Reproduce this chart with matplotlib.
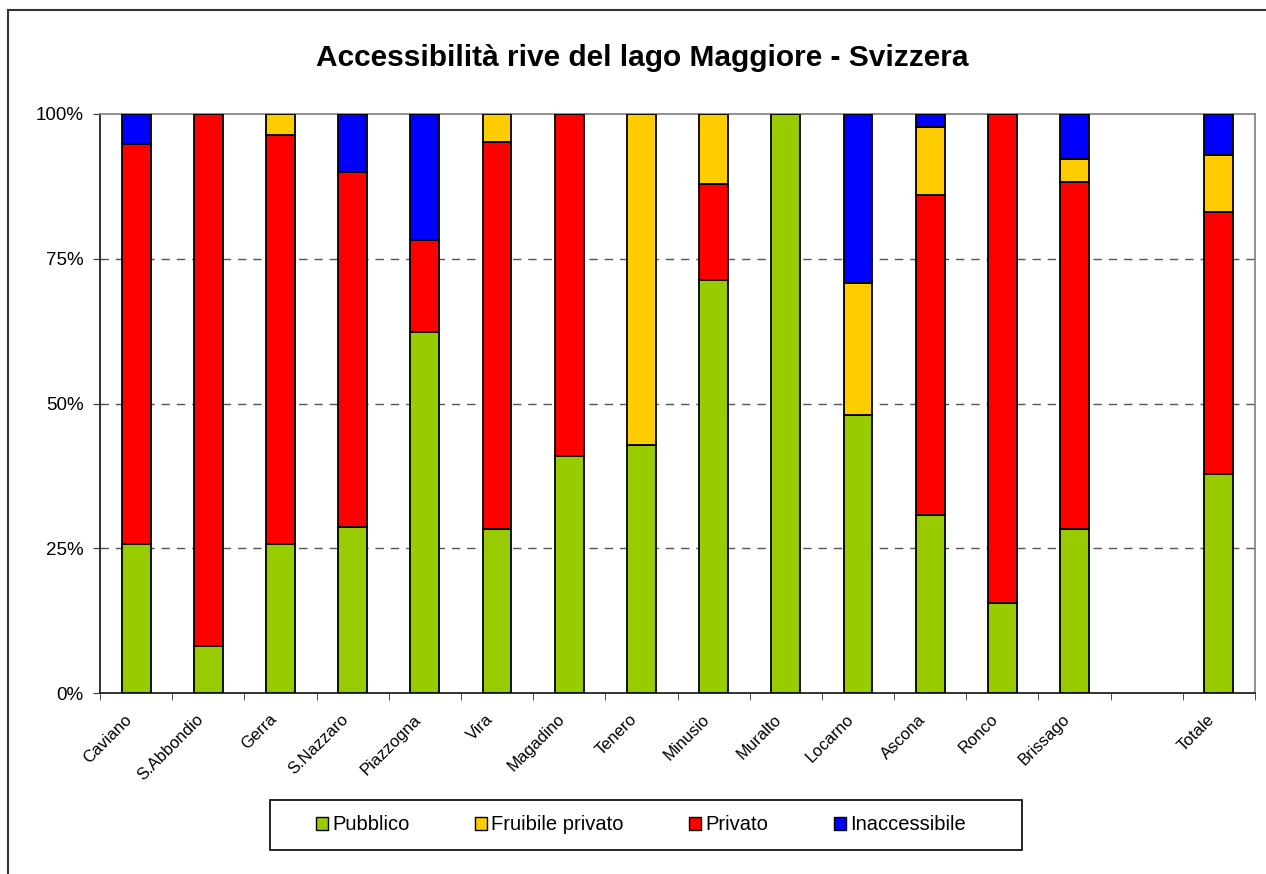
import numpy as np
import matplotlib
matplotlib.use("Agg")
import matplotlib.pyplot as plt
import matplotlib.transforms as mtransforms
from matplotlib.lines import Line2D
from matplotlib.patches import Patch, Rectangle

plt.rcParams['font.family'] = ['Liberation Sans', 'DejaVu Sans']

categories = ["Caviano", "S.Abbondio", "Gerra", "S.Nazzaro", "Piazzogna", "Vira",
              "Magadino", "Tenero", "Minusio", "Muralto", "Locarno", "Ascona",
              "Ronco", "Brissago", "", "Totale"]
pubblico = [25.7, 8.2, 25.7, 28.7, 62.3, 28.3, 41.0, 42.9, 71.4, 100.0, 48.0, 30.7, 15.5, 28.3, 0, 37.9]
fruibile = [0.0, 0.0, 3.6, 0.0, 0.0, 4.8, 0.0, 57.1, 12.1, 0.0, 22.8, 11.7, 0.0, 4.0, 0, 9.9]
privato = [69.1, 91.8, 70.7, 61.3, 16.0, 66.9, 59.0, 0.0, 16.5, 0.0, 0.0, 55.3, 84.5, 59.9, 0, 45.2]
inaccessibile = [5.2, 0.0, 0.0, 10.0, 21.7, 0.0, 0.0, 0.0, 0.0, 0.0, 29.2, 2.3, 0.0, 7.8, 0, 7.0]
series_names = ["Pubblico", "Fruibile privato", "Privato", "Inaccessibile"]
colors = {"Pubblico": "#99CC00", "Fruibile privato": "#FFCC00",
          "Privato": "#FF0000", "Inaccessibile": "#0000FF"}

fig = plt.figure(figsize=(12.66, 8.74), dpi=100)
ax = fig.add_axes([100/1266, 1-693/874, (1255-100)/1266, (693-114)/874])

x = np.arange(len(categories))
w = 0.40
stack_order = [("Pubblico", pubblico), ("Privato", privato),
               ("Fruibile privato", fruibile), ("Inaccessibile", inaccessibile)]
bottom = np.zeros(len(categories))
for name, vals in stack_order:
    v = np.array(vals, dtype=float)
    mask = v > 0
    ax.bar(x[mask], v[mask], w, bottom=bottom[mask], color=colors[name],
           edgecolor="black", linewidth=1.3, zorder=3)
    bottom += v

ax.set_xlim(-0.5, len(categories) - 0.5)
ax.set_ylim(0, 100)
ax.set_yticks([0, 25, 50, 75, 100])
ax.set_yticklabels(["0%", "25%", "50%", "75%", "100%"], fontsize=13.5)
for yv in [25, 50, 75]:
    ax.axhline(yv, color="#555555", linestyle=(0, (6, 5)), linewidth=1.0, zorder=1)

ax.set_xticks(x)
ax.set_xticklabels(categories, rotation=45, ha="right", rotation_mode="anchor", fontsize=12)
ax.tick_params(axis="x", which="major", length=0, pad=12)
offset = mtransforms.ScaledTranslation(-12/100, -2/100, fig.dpi_scale_trans)
for lbl in ax.get_xticklabels():
    lbl.set_transform(lbl.get_transform() + offset)
ax.set_xticks(np.arange(-0.5, len(categories) + 0.5, 1), minor=True)
ax.tick_params(axis="x", which="minor", length=5, direction="out", color="#333333")
ax.tick_params(axis="y", length=5, direction="out", color="#333333", pad=7)

for s in ["left", "bottom"]:
    ax.spines[s].set_color("#222222")
    ax.spines[s].set_linewidth(1.3)
for s in ["top", "right"]:
    ax.spines[s].set_color("#888888")
    ax.spines[s].set_linewidth(1.3)

fig.text(642/1266, 1-58/874, "Accessibilità rive del lago Maggiore - Svizzera",
         ha="center", va="center", fontsize=21.5, fontweight="bold")

# legend frame
fig.add_artist(Rectangle((270/1266, 1-850/874), 752/1266, 50/874, transform=fig.transFigure,
                         facecolor="white", edgecolor="black", linewidth=1.2))
handles = [Patch(facecolor=colors[n], edgecolor="black", linewidth=1.0, label=n)
           for n in series_names]
leg = fig.legend(handles=handles, loc="center", bbox_to_anchor=(641/1266, 1-825/874),
                 ncol=4, fontsize=14.5, frameon=False,
                 handlelength=0.6, handleheight=0.6,
                 handletextpad=0.2, columnspacing=3.25, borderpad=0, borderaxespad=0)
leg.set_zorder(5)

# outer chart-area border
fig.add_artist(Line2D([8/1266, 8/1266], [0, 1-10/874], color="#333333", linewidth=1.5,
                      transform=fig.transFigure))
fig.add_artist(Line2D([8/1266, 1], [1-10/874, 1-10/874], color="#333333", linewidth=1.5,
                      transform=fig.transFigure))

fig.savefig("out.png", dpi=100)
